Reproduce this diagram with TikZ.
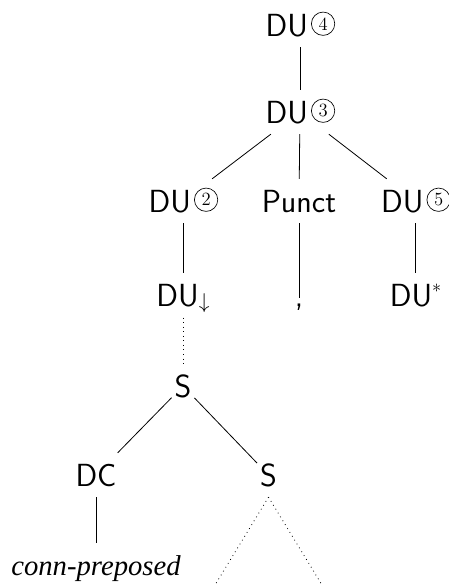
\documentclass[tikz,border=0pt]{standalone}
\usepackage{fontspec}
\usepackage{graphicx}
\usepackage{tikz}
\newfontfamily\leaffont{Liberation Serif}

\begin{document}
\begin{tikzpicture}[x=0.75pt,y=-0.75pt,line width=0.6pt,
  catnode/.style={font=\sffamily\fontsize{24}{28}\selectfont,text height=16.7pt,text depth=0pt,
    inner xsep=2pt,inner ysep=8pt},
  numring/.style={circle,draw,line width=0.5pt,inner sep=0pt,minimum size=17.5pt,
    font=\rmfamily\fontsize{14}{14}\selectfont},
  punctleaf/.style={font=\sffamily\fontsize{24}{28}\selectfont,anchor=base,inner ysep=3.5pt},
  wordleaf/.style={font=\leaffont\itshape\fontsize{21.5}{24}\selectfont,anchor=base,
    text height=15pt,text depth=5pt,inner ysep=9pt},
  dotline/.style={dash pattern=on 0.6pt off 2.8pt}]
  \useasboundingbox (0,0) rectangle (449,585);
  % upper part
  \node[catnode] (du4) at (300,25) {DU\hspace{19.7pt}\null};
  \node[catnode] (du3) at (300,112) {DU\hspace{19.7pt}\null};
  \node[catnode] (du2) at (183,201) {DU\hspace{19.7pt}\null};
  \node[catnode] (punct) at (299,201) {Punct};
  \node[catnode] (du5) at (415.5,201) {DU\hspace{19.7pt}\null};
  \node[catnode] (dudown) at (183,295.5)
    {DU\raisebox{-1.4pt}{\resizebox*{!}{14.3pt}{$\downarrow$}}};
  \node[punctleaf] (comma) at (299,306) {,};
  \node[catnode] (dustar) at (415.5,295.5)
    {DU\raisebox{10.4pt}{\resizebox{6.8pt}{!}{$\ast$}}};
  % circled numbers
  \node[numring] (du4n) at ([xshift=-10.7pt,yshift=9.3pt]du4.base east) {4};
  \node[numring] (du3n) at ([xshift=-10.7pt,yshift=9.3pt]du3.base east) {3};
  \node[numring] (du2n) at ([xshift=-10.7pt,yshift=9.3pt]du2.base east) {2};
  \node[numring] (du5n) at ([xshift=-10.7pt,yshift=9.3pt]du5.base east) {5};
  \draw (du4) -- (du3);
  \draw (du3) -- (du2);
  \draw (du3) -- (punct);
  \draw (du3) -- (du5);
  \draw (du2) -- (dudown);
  \draw (punct) -- (comma);
  \draw (du5) -- (dustar);
  % lower part
  \node[catnode] (s1) at (183,386) {S};
  \node[catnode] (dc) at (96,475) {DC};
  \node[catnode] (s2) at (268.5,475) {S};
  \node[wordleaf] (conn) at (96,575) {conn-preposed};
  \coordinate (tril) at (215,585);
  \coordinate (trir) at (322,585);
  \draw[dotline] (dudown) -- (s1);
  \draw (s1) -- (dc);
  \draw (s1) -- (s2);
  \draw (dc) -- (conn);
  \draw[dotline] (s2.south) -- (tril);
  \draw[dotline] (s2.south) -- (trir);
\end{tikzpicture}
\end{document}
